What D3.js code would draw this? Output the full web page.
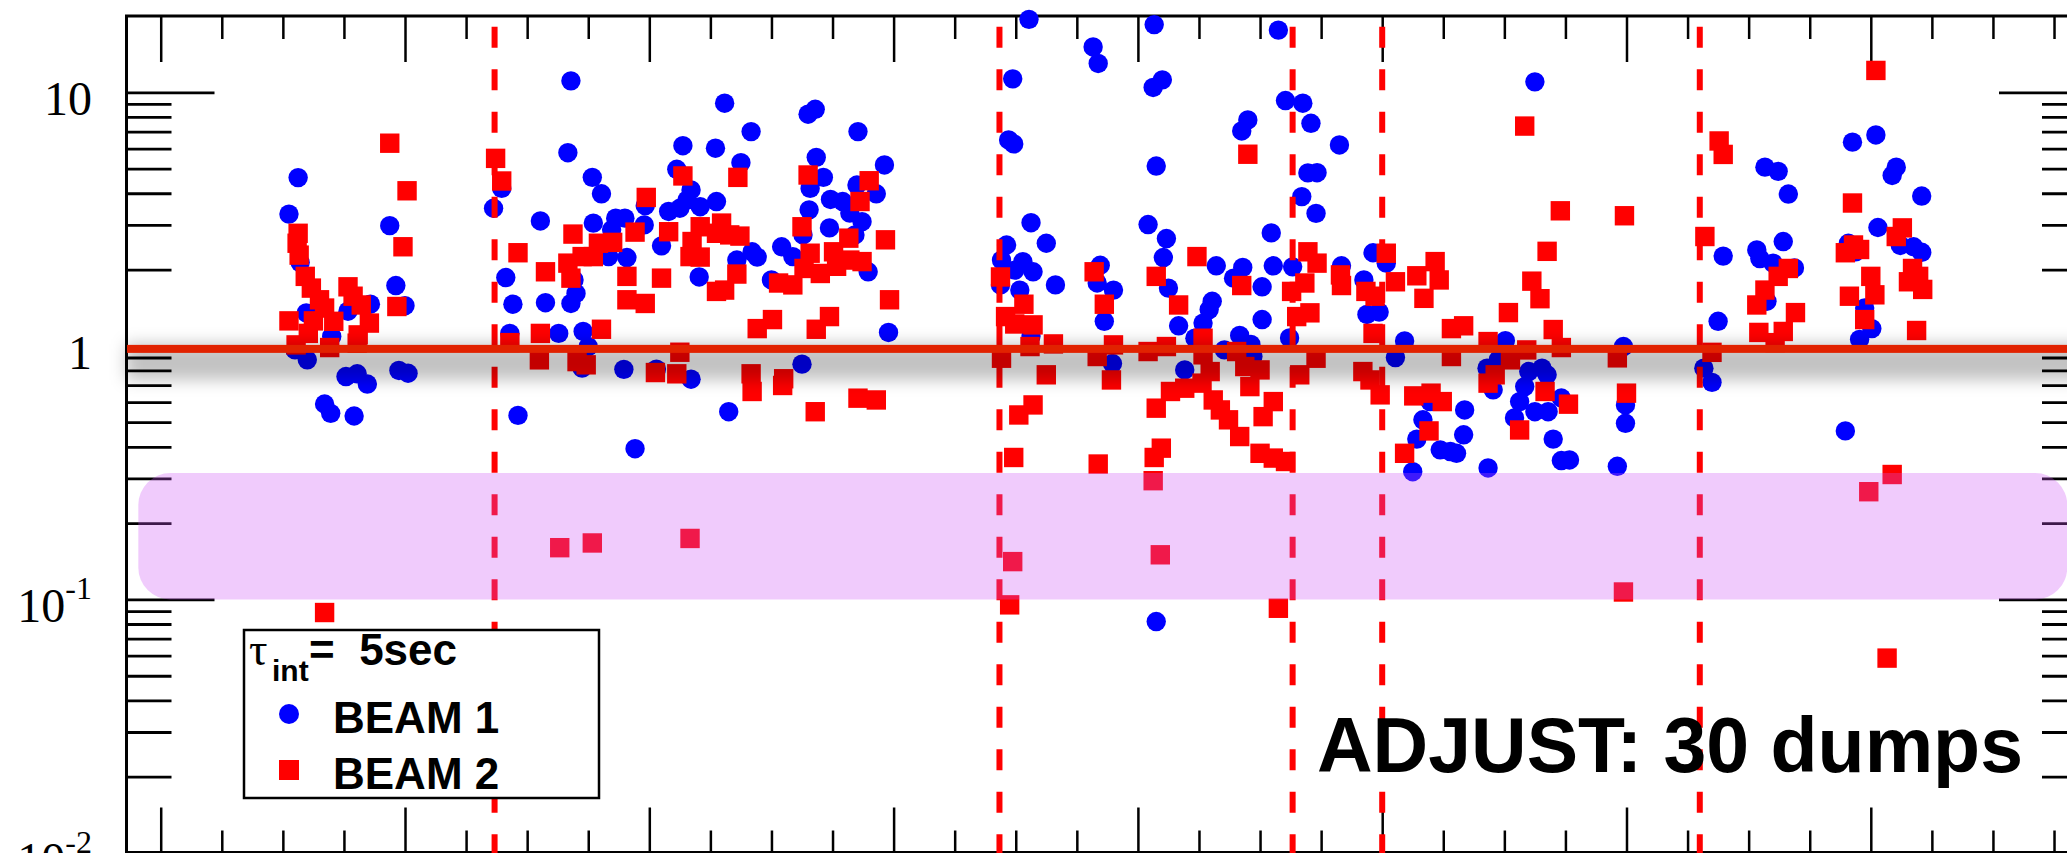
<!DOCTYPE html>
<html>
<head>
<meta charset="utf-8">
<script src="https://cdn.jsdelivr.net/npm/d3@7"></script>
<style>
  html, body { margin: 0; padding: 0; background: #fff; overflow: hidden; }
</style>
</head>
<body>
<svg id="chart" width="2067" height="853"></svg>
<script>
// ---- data: [hours since start, loss ratio] ----
const beam1 = [
  [13.5,4.61],[12.6,3.31],[13.7,2.13],[14.3,1.35],[13.2,0.964],[14.4,0.881],[16.8,1.09],[18.4,1.37],
  [20.6,1.46],[18.2,0.757],[19.3,0.776],[20.3,0.707],[16.1,0.59],[16.7,0.542],[19.0,0.529],[22.5,2.98],
  [23.1,1.73],[24.0,1.44],[23.4,0.80],[24.3,0.78],
  [32.7,3.49],[33.5,4.18],[33.9,1.86],[34.6,1.46],[34.3,1.12],[35.1,0.532],[40.3,11.1],[40.0,5.78],
  [42.4,4.62],[43.3,3.98],[37.3,3.11],[42.5,3.05],[44.7,3.19],[45.6,3.19],[44.3,2.87],[44.0,2.25],
  [45.8,2.23],[37.8,1.48],[40.3,1.47],[40.8,1.61],[40.6,1.82],[39.1,1.12],[41.5,1.14],[42.0,0.994],
  [41.4,0.817],[45.5,0.808],[46.6,0.393],[51.3,6.16],[58.0,7.0],[68.5,7.0],[54.5,6.02],[50.7,4.97],
  [57.0,5.28],[64.4,5.54],[71.1,5.17],[65.1,4.62],[63.8,4.18],[68.4,4.31],[70.3,3.98],[52.1,4.12],
  [47.6,3.57],[47.5,3.00],[49.9,3.39],[51.0,3.49],[53.0,3.54],[54.6,3.71],[51.7,3.76],[65.8,3.78],
  [67.0,3.71],[63.7,3.44],[67.7,3.34],[68.9,3.09],[65.7,2.92],[63.1,2.74],[68.2,2.74],[49.2,2.48],
  [61.0,2.46],[62.1,2.25],[58.1,2.35],[58.6,2.24],[56.6,2.18],[52.9,1.87],[60.0,1.82],[69.5,1.96],
  [71.5,1.13],[48.7,0.81],[52.1,0.739],[63.0,0.847],[55.8,0.55],[55.4,9.06],[63.6,8.2],[64.3,8.57],
  [83.3,6.49],[83.8,6.26],[85.5,3.06],[87.0,2.54],[83.1,2.50],[82.6,2.18],[84.7,2.15],[85.7,1.96],
  [83.9,1.99],[87.9,1.74],[82.5,1.74],[84.4,1.66],[85.5,1.095],[85.3,19.4],[97.6,18.5],[109.8,17.6],
  [91.6,15.1],[92.1,13.0],[83.7,11.3],[98.4,11.2],[97.5,10.45],[110.5,9.28],[112.2,9.06],[113.0,7.55],
  [106.8,7.78],[106.2,7.04],[115.8,6.20],[97.8,5.12],[112.7,4.81],[113.6,4.82],[112.1,3.88],[113.5,3.33],
  [97.0,3.01],[98.8,2.65],[98.5,2.23],[109.1,2.79],[92.3,2.08],[92.0,1.77],[93.6,1.66],[99.0,1.69],
  [103.7,2.07],[106.3,2.04],[109.3,2.07],[111.2,2.05],[116.0,2.07],[105.4,1.85],[108.2,1.71],[103.3,1.50],
  [103.0,1.39],[102.4,1.23],[92.7,1.25],[100.0,1.20],[108.2,1.27],[119.1,2.33],[120.4,2.12],[118.2,1.82],
  [118.5,1.33],[119.7,1.36],[101.6,1.072],[106.0,1.10],[107.1,1.013],[110.9,1.075],[104.5,0.964],[107.3,0.908],
  [93.5,0.852],[100.6,0.804],[122.2,1.046],[121.3,0.899],[130.3,0.817],[130.9,0.671],[128.1,0.559],[124.0,0.511],
  [123.4,0.429],[128.0,0.446],[125.7,0.389],[126.7,0.383],[127.3,0.377],[124.7,0.603],[123.0,0.319],[130.4,0.330],
  [135.0,11.0],[166.2,6.36],[168.5,6.79],[157.6,5.07],[158.9,4.88],[159.9,3.97],[170.1,4.70],[170.5,5.07],
  [173.0,3.90],[168.7,2.93],[159.4,2.58],[156.8,2.39],[157.1,2.21],[160.5,2.03],[158.4,2.12],[153.5,2.26],
  [153.0,1.25],[165.8,2.54],[166.5,2.35],[170.9,2.49],[172.2,2.46],[173.0,2.34],[157.8,1.50],[167.4,1.41],
  [168.1,1.17],[166.9,1.06],[132.1,1.048],[131.4,0.881],[134.4,0.792],[135.7,0.817],[136.2,0.769],[134.0,0.691],
  [133.5,0.603],[133.0,0.52],[135.0,0.55],[136.3,0.55],[137.6,0.623],[136.8,0.429],[137.6,0.353],[138.4,0.355],
  [143.7,0.994],[143.9,0.585],[143.9,0.495],[143.1,0.335],[151.6,0.817],[152.4,0.718],[165.5,0.462],[97.8,0.0818]
];

const beam2 = [
  [22.5,6.30],[24.2,4.09],[23.8,2.46],[13.5,2.78],[13.4,2.54],[13.6,2.28],[14.2,1.88],[14.8,1.69],
  [15.6,1.52],[16.1,1.41],[17.0,1.25],[12.6,1.255],[15.0,1.255],[14.5,1.12],[13.3,1.009],[16.6,0.985],
  [18.4,1.71],[18.9,1.57],[19.7,1.45],[20.5,1.23],[19.4,1.105],[19.3,1.025],[23.2,1.43],[16.1,0.0888],
  [32.9,5.49],[33.5,4.47],[35.1,2.33],[34.3,1.03],[37.3,1.12],[37.2,0.881],[37.8,1.96],[40.5,2.76],
  [40.0,2.12],[40.3,1.85],[41.4,2.25],[42.5,2.25],[43.0,2.54],[44.4,2.56],[43.3,1.163],[40.9,0.867],
  [41.8,0.842],[45.8,1.88],[45.8,1.52],[39.2,0.16],[42.4,0.167],[52.0,0.174],[51.3,4.68],[56.7,4.62],
  [63.6,4.72],[69.6,4.48],[47.7,3.85],[68.7,3.71],[46.6,2.81],[49.9,2.82],[53.0,2.95],[55.1,3.05],
  [52.2,2.58],[52.0,2.25],[53.0,2.24],[54.6,2.78],[56.9,2.71],[55.9,2.74],[63.0,2.95],[67.6,2.66],
  [71.2,2.62],[63.8,2.32],[66.1,2.35],[63.2,2.02],[64.8,1.93],[66.4,2.06],[67.7,2.18],[68.9,2.15],
  [56.6,1.92],[49.2,1.85],[47.6,1.47],[54.6,1.64],[55.4,1.66],[60.7,1.77],[62.1,1.74],[71.6,1.52],
  [60.1,1.27],[58.6,1.17],[65.7,1.305],[64.4,1.163],[51.0,0.944],[48.6,0.785],[50.7,0.776],[58.0,0.776],
  [58.1,0.661],[61.2,0.742],[61.1,0.698],[64.3,0.55],[68.5,0.622],[70.3,0.612],
  [82.5,1.87],[84.8,1.46],[83.0,1.305],[83.9,1.22],[85.7,1.21],[85.4,0.994],[82.6,0.894],[87.0,0.769],
  [87.7,1.018],[85.7,0.585],[84.3,0.534],[83.8,0.363],[83.7,0.141],[83.4,0.0952],[92.1,0.342],[97.6,0.363],
  [98.3,0.395],[97.5,0.294],[98.2,0.150],[109.8,0.0923],[106.8,5.70],[91.7,1.96],[92.7,1.46],[97.8,1.88],
  [101.8,2.25],[100.0,1.45],[106.2,1.73],[112.7,2.35],[113.6,2.12],[112.4,1.77],[111.1,1.64],[111.6,1.305],
  [112.9,1.35],[115.9,1.905],[116.0,1.73],[120.4,2.32],[118.4,1.64],[119.3,1.57],[121.3,1.79],[123.4,1.89],
  [125.2,2.15],[125.6,1.82],[124.1,1.54],[126.8,1.17],[128.0,1.20],[126.8,0.908],[130.4,1.04],[130.4,0.713],
  [119.1,1.12],[118.1,0.792],[118.8,0.734],[119.8,0.641],[123.1,0.635],[124.8,0.651],[125.9,0.603],[124.6,0.462],
  [122.2,0.377],[92.0,0.908],[93.6,1.009],[93.4,0.734],[97.0,0.95],[98.8,0.994],[102.4,1.072],[102.4,0.922],
  [103.1,0.792],[105.7,0.95],[106.5,0.829],[108.0,0.804],[107.0,0.691],[111.9,0.769],[113.5,0.894],[102.3,0.713],
  [100.6,0.681],[99.2,0.661],[97.8,0.568],[103.4,0.612],[104.1,0.559],[104.9,0.511],[106.0,0.439],[109.3,0.603],
  [108.3,0.526],[108.0,0.377],[109.3,0.361],[110.5,0.35],
  [134.0,7.36],[168.5,12.2],[153.1,6.43],[153.5,5.69],[137.5,3.41],[143.8,3.26],[151.7,2.70],[136.2,2.36],
  [166.2,3.66],[171.1,2.92],[170.5,2.70],[166.3,2.50],[165.5,2.33],[166.9,2.40],[159.9,2.02],[158.9,1.88],
  [157.6,1.66],[156.8,1.45],[160.6,1.353],[157.0,1.13],[159.4,1.14],[158.6,1.03],[168.0,1.88],[168.4,1.59],
  [165.9,1.57],[167.4,1.27],[172.1,2.02],[171.7,1.79],[173.1,1.67],[172.7,1.88],[172.5,1.15],[170.1,0.311],
  [167.8,0.266],[169.6,0.0587],[143.7,0.107],[134.7,1.80],[135.5,1.535],[132.4,1.353],[136.8,1.16],[137.6,0.985],
  [134.2,0.964],[132.6,0.881],[131.1,0.769],[136.0,0.661],[138.3,0.589],[133.5,0.466],[143.1,0.897],[144.0,0.651],
  [152.4,0.943]
];

// beam-dump markers (hours)
const dumpHours = [32.8, 82.4, 111.2, 120.0, 151.2];
const referenceRatio = 1;
const highlightRatio = [0.1, 0.315];
const highlightHours = [-2.2, 187.3];

const hourDomain = [-3.41, 189.24];
const ratioDomain = [0.01, 20];
const hourMinorStep = 6, hourMajorStep = 24;
const ratioMajorTicks = [0.01, 0.1, 1, 10];
const ratioTickLabels = [["10", "-2"], ["10", "-1"], ["1", ""], ["10", ""]];

const legendTitle = { sym: "\u03C4", sub: "int", rest: "=  5sec" };
const seriesNames = ["BEAM 1", "BEAM 2"];
const annotation = "ADJUST: 30 dumps";

// ---- layout ----
const SERIF = "'Liberation Serif','Times New Roman',Times,serif";
const SANS = "'Liberation Sans',Arial,Helvetica,sans-serif";
const svg = d3.select("#chart");
const x = d3.scaleLinear().domain(hourDomain).range([126, 2087]);
const y = d3.scaleLog().domain(ratioDomain).range([853, 16]);
const [xl, xr] = x.range();
const yTop = y.range()[1], yBot = 852.5;

const defs = svg.append("defs");
defs.append("filter").attr("id", "soft")
  .attr("filterUnits", "userSpaceOnUse")
  .attr("x", 0).attr("y", 250).attr("width", 2300).attr("height", 220)
  .append("feGaussianBlur").attr("stdDeviation", 8);

// ---- ticks ----
const hourTicks = d3.range(0, hourDomain[1], hourMinorStep);
const hourMajor = hourTicks.filter(h => h % hourMajorStep === 0);
const hourMinor = hourTicks.filter(h => h % hourMajorStep !== 0);
const ratioMinor = [];
[-2, -1, 0, 1].forEach(k => d3.range(2, 10).forEach(m => {
  const v = m * Math.pow(10, k);
  if (v < ratioDomain[1]) ratioMinor.push(v);
}));

function tickGroup(axis, tx, ty, width) {
  const g = svg.append("g").attr("transform", `translate(${tx},${ty})`).call(axis);
  g.select(".domain").remove();
  g.selectAll("text").remove();
  g.selectAll("line").attr("stroke", "#000").attr("stroke-width", width);
  return g;
}
tickGroup(d3.axisTop(x).tickValues(hourMajor).tickSize(-46).tickFormat(""), 0, yTop, 2.5);
tickGroup(d3.axisTop(x).tickValues(hourMinor).tickSize(-23).tickFormat(""), 0, yTop, 2.5);
tickGroup(d3.axisBottom(x).tickValues(hourMajor).tickSize(-45).tickFormat(""), 0, yBot, 2.5);
tickGroup(d3.axisBottom(x).tickValues(hourMinor).tickSize(-22).tickFormat(""), 0, yBot, 2.5);
tickGroup(d3.axisLeft(y).tickValues(ratioMajorTicks).tickSize(-88).tickFormat(""), xl + 0.5, 0, 2.8);
tickGroup(d3.axisLeft(y).tickValues(ratioMinor).tickSize(-45).tickFormat(""), xl + 0.5, 0, 2.8);
tickGroup(d3.axisRight(y).tickValues(ratioMajorTicks).tickSize(-88).tickFormat(""), xr, 0, 2.8);
tickGroup(d3.axisRight(y).tickValues(ratioMinor).tickSize(-45).tickFormat(""), xr, 0, 2.8);

// frame
const frame = svg.append("g").attr("stroke", "#000").attr("stroke-width", 3);
frame.append("line").attr("x1", xl - 1).attr("x2", xr).attr("y1", yTop).attr("y2", yTop);
frame.append("line").attr("x1", xl - 1).attr("x2", xr).attr("y1", yBot).attr("y2", yBot);
frame.append("line").attr("x1", xl + 0.5).attr("x2", xl + 0.5).attr("y1", yTop).attr("y2", yBot);
frame.append("line").attr("x1", xr).attr("x2", xr).attr("y1", yTop).attr("y2", yBot);

// y labels
ratioMajorTicks.forEach((v, i) => {
  const [base, sup] = ratioTickLabels[i];
  const t = svg.append("text")
    .attr("x", 92).attr("y", y(v) + 23)
    .attr("text-anchor", "end")
    .attr("font-family", SERIF).attr("font-size", 48).attr("fill", "#000");
  t.append("tspan").text(base);
  if (sup) t.append("tspan").attr("font-size", 32).attr("dy", -23).text(sup);
});

// ---- markers ----
svg.append("g").selectAll("circle").data(beam1).join("circle")
  .attr("cx", d => x(d[0])).attr("cy", d => y(d[1])).attr("r", 9.7)
  .attr("fill", "#0000ff");
const SQ = 19.4;
svg.append("g").selectAll("rect").data(beam2).join("rect")
  .attr("x", d => x(d[0]) - SQ / 2).attr("y", d => y(d[1]) - SQ / 2)
  .attr("width", SQ).attr("height", SQ)
  .attr("fill", "#ff0000");

// dump markers
svg.append("g").selectAll("line").data(dumpHours).join("line")
  .attr("x1", d => x(d)).attr("x2", d => x(d))
  .attr("y1", yTop).attr("y2", 853)
  .attr("stroke", "#ff0000").attr("stroke-width", 6)
  .attr("stroke-dasharray", "21 21.5").attr("stroke-dashoffset", 31.8);

// reference level with soft shadow
svg.append("rect")
  .attr("x", xl).attr("width", xr - xl)
  .attr("y", y(referenceRatio) - 2).attr("height", 36)
  .attr("fill", "#000").attr("fill-opacity", 0.24)
  .attr("filter", "url(#soft)");
svg.append("rect")
  .attr("x", xl + 1).attr("width", xr - xl)
  .attr("y", y(referenceRatio) - 1).attr("height", 8)
  .attr("fill", "#e12200");

// highlighted ratio band
svg.append("rect")
  .attr("x", x(highlightHours[0])).attr("width", x(highlightHours[1]) - x(highlightHours[0]))
  .attr("y", y(highlightRatio[1])).attr("height", y(highlightRatio[0]) - y(highlightRatio[1]))
  .attr("rx", 32).attr("ry", 32)
  .attr("fill", "rgb(205,84,245)").attr("fill-opacity", 0.3);

// ---- legend ----
const lg = svg.append("g");
lg.append("rect").attr("x", 244).attr("y", 630).attr("width", 355).attr("height", 168)
  .attr("fill", "#fff").attr("stroke", "#000").attr("stroke-width", 2.5);
const title = lg.append("text").attr("y", 665).attr("fill", "#000");
title.append("tspan").attr("x", 249).attr("font-family", SERIF).attr("font-size", 46).text(legendTitle.sym);
title.append("tspan").attr("x", 272).attr("dy", 16).attr("font-family", SANS).attr("font-weight", "bold")
  .attr("font-size", 30).text(legendTitle.sub);
title.append("tspan").attr("x", 309).attr("dy", -16).attr("font-family", SANS).attr("font-weight", "bold")
  .attr("font-size", 44).attr("xml:space", "preserve").style("white-space", "pre").text(legendTitle.rest);
lg.append("circle").attr("cx", 289).attr("cy", 714).attr("r", 10).attr("fill", "#0000ff");
lg.append("rect").attr("x", 279).attr("y", 760).attr("width", 20).attr("height", 20).attr("fill", "#ff0000");
seriesNames.forEach((n, i) => {
  lg.append("text").attr("x", 333).attr("y", 733 + i * 56)
    .attr("font-family", SANS).attr("font-weight", "bold").attr("font-size", 44)
    .attr("fill", "#000").text(n);
});

// annotation
svg.append("text").attr("x", 1317).attr("y", 772)
  .attr("font-family", SANS).attr("font-weight", "bold").attr("font-size", 77)
  .attr("fill", "#000").text(annotation);
</script>
</body>
</html>
